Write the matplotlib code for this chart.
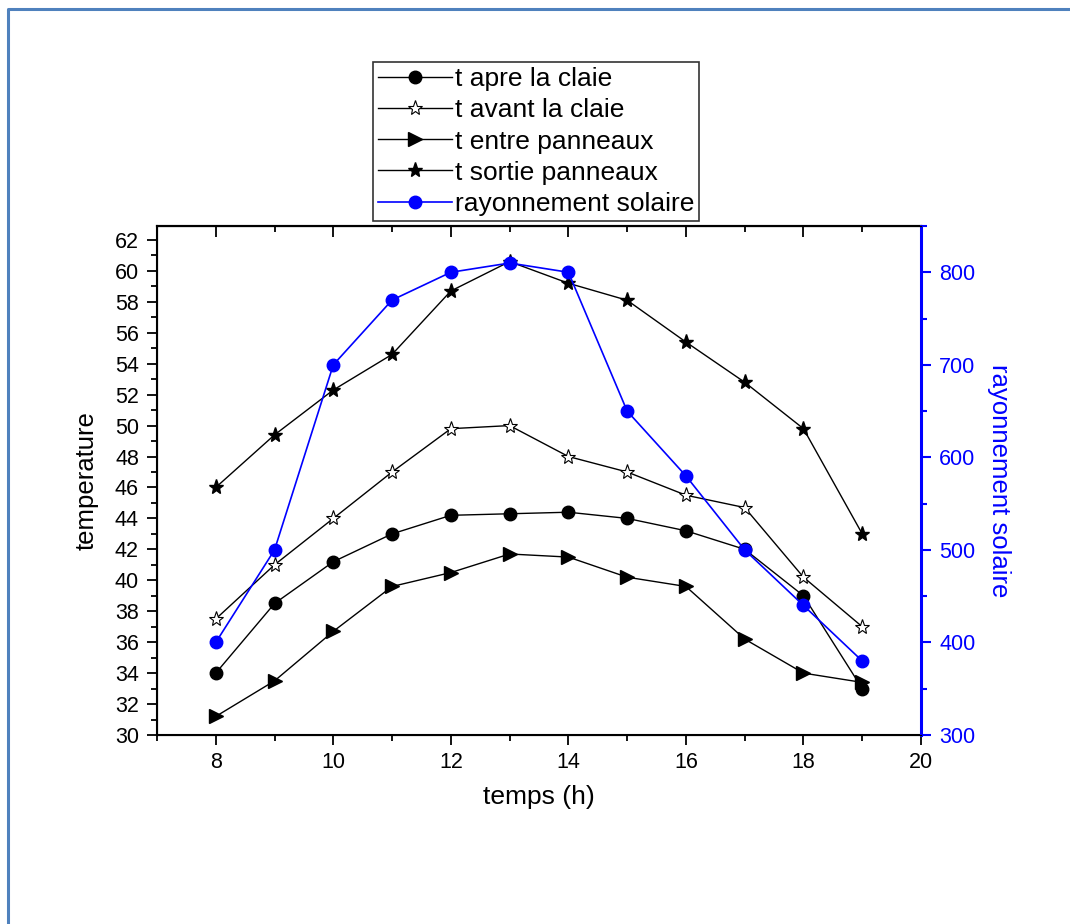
import matplotlib
matplotlib.use("Agg")
import matplotlib.pyplot as plt
from matplotlib.lines import Line2D
from matplotlib.ticker import MultipleLocator, NullFormatter

plt.rcParams['font.family'] = ['Liberation Sans', 'DejaVu Sans']

# data
hours = [8, 9, 10, 11, 12, 13, 14, 15, 16, 17, 18, 19]
t_apre = [34, 38.5, 41.2, 43, 44.2, 44.3, 44.4, 44, 43.2, 42, 39, 33]
t_avant = [37.5, 41, 44, 47, 49.8, 50, 48, 47, 45.5, 44.7, 40.2, 37]
t_entre = [31.2, 33.5, 36.7, 39.6, 40.5, 41.7, 41.5, 40.2, 39.6, 36.2, 34, 33.4]
t_sortie = [46, 49.4, 52.3, 54.6, 58.7, 60.6, 59.2, 58.1, 55.4, 52.8, 49.8, 43]
rayonnement = [400, 500, 700, 770, 800, 810, 800, 650, 580, 500, 440, 380]

W, H = 1070, 924
fig = plt.figure(figsize=(W / 100, H / 100), dpi=100)

# blue outer frame (only top and left edges are visible)
fig.lines.append(Line2D([8 / W, 8 / W, 1.0], [0.0, 1 - 9 / H, 1 - 9 / H],
                        transform=fig.transFigure, color='#4F81BD', lw=2.2))

ax = fig.add_axes([157 / W, 1 - 735 / H, (921 - 157) / W, (735 - 226) / H])
ax2 = ax.twinx()

l1, = ax.plot(hours, t_apre, color='black', lw=1, marker='o', ms=9,
              label='t apre la claie')
l2, = ax.plot(hours, t_avant, color='black', lw=1, marker='*', ms=11,
              mfc='white', mec='black', mew=0.8, label='t avant la claie')
l3, = ax.plot(hours, t_entre, color='black', lw=1, marker='>', ms=10,
              label='t entre panneaux')
l4, = ax.plot(hours, t_sortie, color='black', lw=1, marker='*', ms=11,
              label='t sortie panneaux')
l5, = ax2.plot(hours, rayonnement, color='blue', lw=1.2, marker='o', ms=9,
               label='rayonnement solaire')

ax.set_xlim(7, 20)
ax.set_ylim(30, 62.9)
ax2.set_ylim(300, 850)

ax.xaxis.set_major_locator(MultipleLocator(2))
ax.xaxis.set_minor_locator(MultipleLocator(1))
ax.yaxis.set_major_locator(MultipleLocator(2))
ax.yaxis.set_minor_locator(MultipleLocator(1))
ax2.yaxis.set_major_locator(MultipleLocator(100))
ax2.yaxis.set_minor_locator(MultipleLocator(50))

ax.tick_params(axis='both', which='major', labelsize=15.5, length=7, width=1.3,
               direction='out', pad=6)
ax.tick_params(axis='both', which='minor', length=4, width=1.3, direction='out')
ax.tick_params(axis='x', which='major', pad=5)

# inward ticks on the top edge, no labels
sec = ax.secondary_xaxis('top')
sec.xaxis.set_major_locator(MultipleLocator(2))
sec.xaxis.set_minor_locator(MultipleLocator(1))
sec.xaxis.set_major_formatter(NullFormatter())
sec.tick_params(which='major', direction='in', length=8, width=1.3)
sec.tick_params(which='minor', direction='in', length=4, width=1.3)
sec.spines['top'].set_linewidth(1.5)

ax2.tick_params(axis='y', which='major', labelsize=15.5, length=7, width=1.5,
                colors='blue', direction='out', pad=6)
ax2.tick_params(axis='y', which='minor', length=4, width=1.5, colors='blue',
                direction='out')

for s in ['left', 'bottom', 'top']:
    ax.spines[s].set_linewidth(1.5)
ax2.spines['right'].set_color('blue')
ax2.spines['right'].set_linewidth(2.2)
ax.spines['right'].set_visible(False)

ax.set_xlabel('temps (h)', fontsize=19, labelpad=9)
ax.set_ylabel('temperature', fontsize=18.5, labelpad=12)
ax2.set_ylabel('rayonnement solaire', fontsize=18.5, color='blue', rotation=270,
               labelpad=26)

leg = fig.legend(handles=[l1, l2, l3, l4, l5], loc='upper left',
                 bbox_to_anchor=(373 / W, 1 - 62 / H), fontsize=19,
                 frameon=True, fancybox=False, edgecolor='black',
                 handlelength=2.8, handletextpad=0.1, borderpad=0.2,
                 labelspacing=0.27, borderaxespad=0)
leg.get_frame().set_linewidth(1.2)

fig.savefig('out.png', dpi=100)
